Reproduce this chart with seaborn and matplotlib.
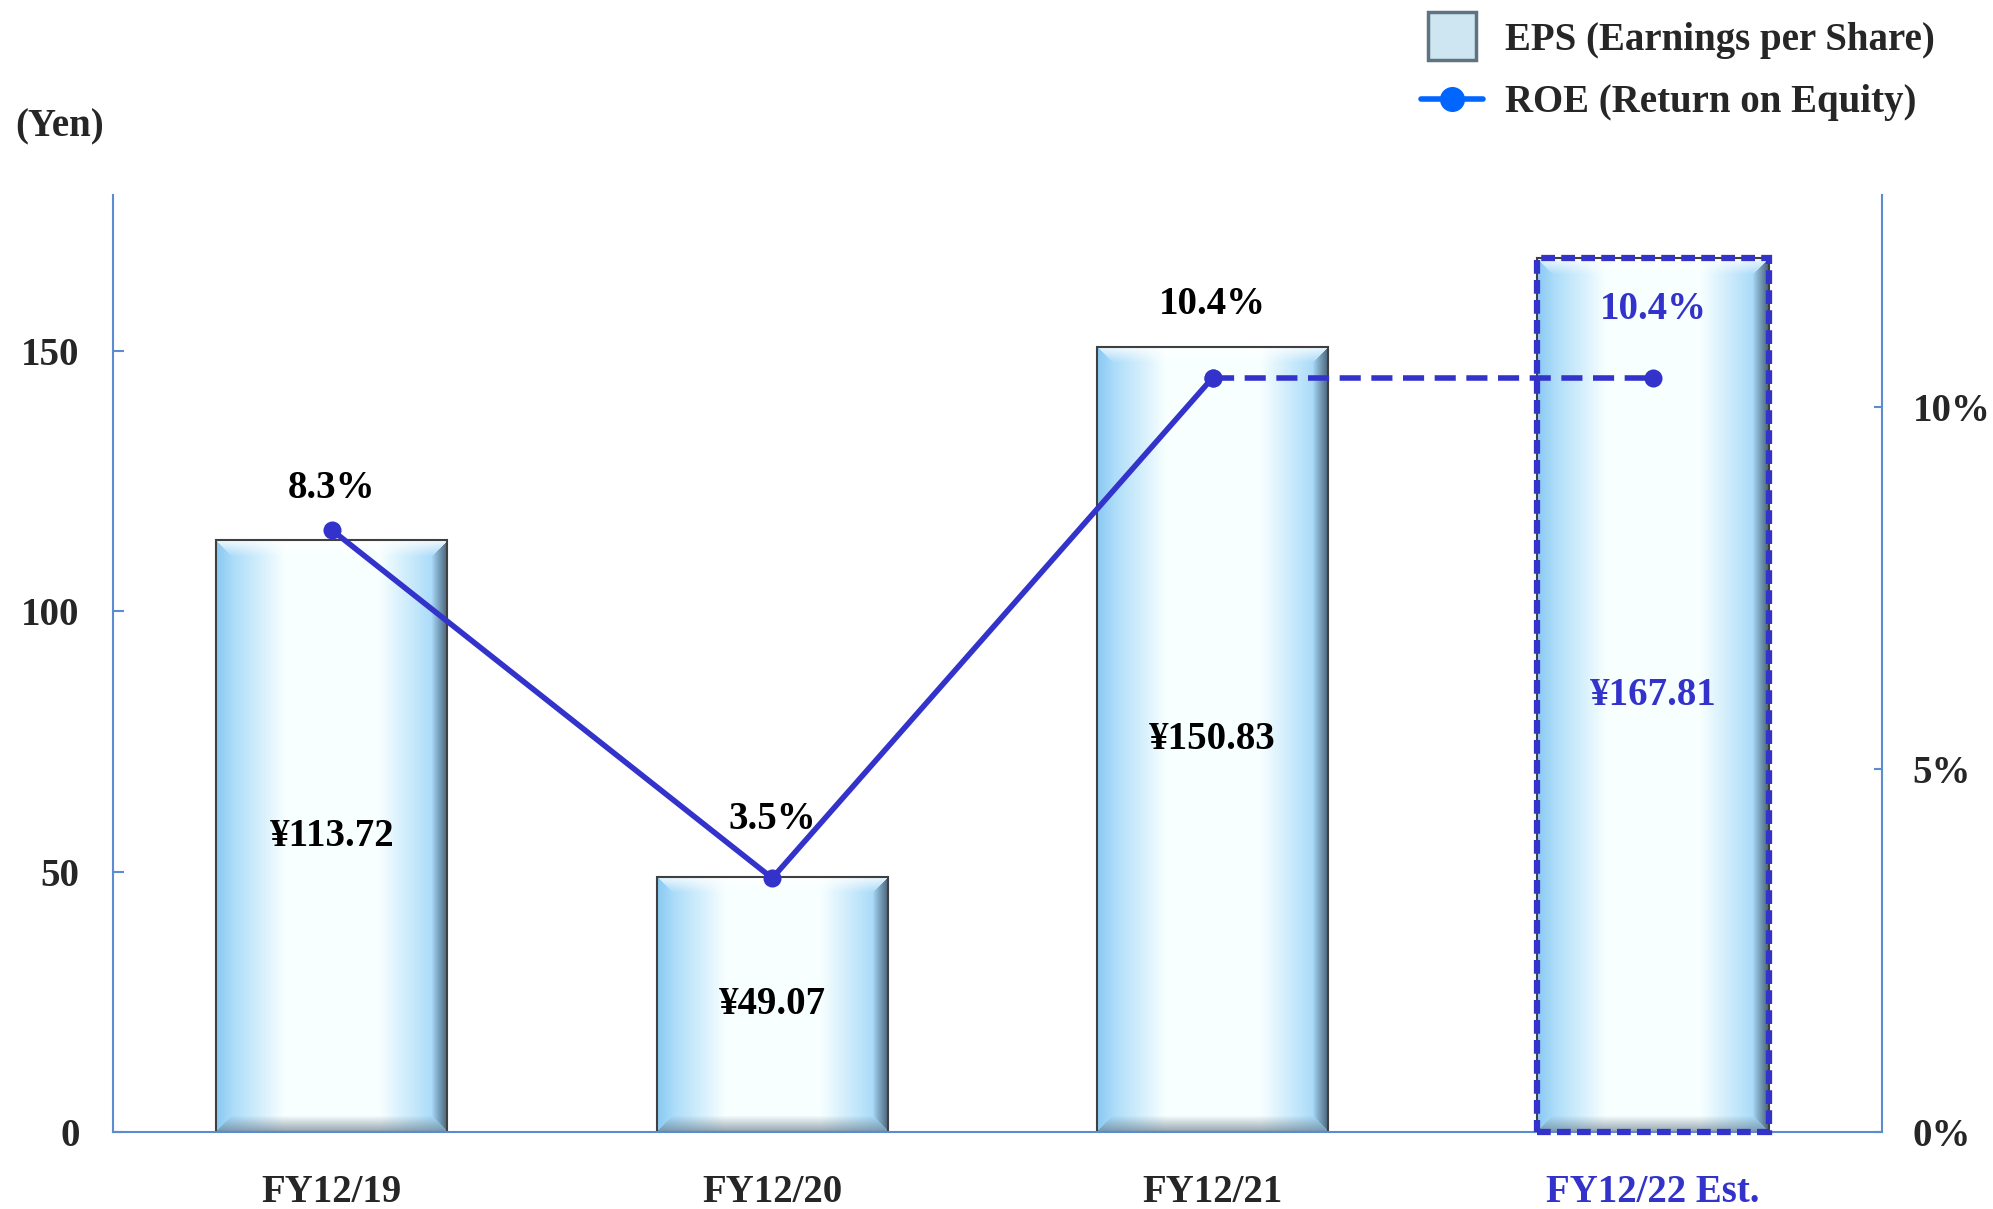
import numpy as np
import matplotlib
matplotlib.use("Agg")
import matplotlib.pyplot as plt
import seaborn as sns
from matplotlib.patches import Patch, Rectangle
from matplotlib.lines import Line2D
from matplotlib.legend_handler import HandlerPatch

# =========================
# DATA
# =========================
categories = ["FY12/19", "FY12/20", "FY12/21", "FY12/22 Est."]
eps = [113.72, 49.07, 150.83, 167.81]
roe = [8.3, 3.5, 10.4, 10.4]
eps_labels = ["¥113.72", "¥49.07", "¥150.83", "¥167.81"]
roe_labels = ["8.3%", "3.5%", "10.4%", "10.4%"]
left_ticks = [0, 50, 100, 150]
right_ticks = [0, 5, 10]

# =========================
# STYLE
# =========================
LINE = "#3333CC"
LEGEND_LINE = "#0066FF"
SPINE = "#5B8BD0"
FS = 28

sns.set_style("white")
plt.rcParams["font.family"] = ["Liberation Serif", "DejaVu Serif"]
plt.rcParams["font.weight"] = "bold"

W_PX, H_PX = 1993, 1209
fig = plt.figure(figsize=(W_PX / 100, H_PX / 100), dpi=100)
ax = fig.add_axes([113 / W_PX, 1 - 1132 / H_PX, (1882 - 113) / W_PX, (1132 - 195) / H_PX])

x = np.arange(len(categories))

# =========================
# BARS (EPS)
# =========================
sns.barplot(x=x, y=eps, ax=ax, native_scale=True, width=0.525,
            facecolor="none", edgecolor="#404040", linewidth=1.5)

ax.set_xlim(-0.497, len(categories) - 0.48)
ax.set_ylim(0, 180)


def bar_image(w, h, b=16):
    u = np.linspace(0, 1, w)
    edge = np.array([0.58, 0.82, 0.97])
    mid = np.array([0.97, 1.0, 1.0])
    t = np.clip((1 - np.abs(u - 0.5) / 0.5) * 1.7, 0, 1)
    row = edge + (mid - edge) * t[:, None]
    img = np.repeat(row[None, :, :], h, axis=0)

    yy, xx = np.mgrid[0:h, 0:w]
    dt, db, dl, dr = yy, h - 1 - yy, xx, w - 1 - xx
    d = np.minimum.reduce([dt, db, dl, dr])
    fade = np.clip(1 - d / b, 0, 1)[..., None]

    def blend(mask, color, strength):
        m = (mask & (d < b))[..., None]
        f = fade * strength * m
        return img * (1 - f) + np.array(color) * f

    img = blend(dt == d, [1.0, 1.0, 1.0], 0.85)
    img = blend((db == d) & (dt != d), [0.42, 0.50, 0.56], 0.7)
    img = blend((dr == d) & (dt != d) & (db != d), [0.22, 0.28, 0.35], 0.8)
    img = blend((dl == d) & (dt != d) & (db != d), [0.50, 0.75, 0.92], 0.4)
    return np.clip(img, 0, 1)


bars = list(ax.patches)
for p in bars:
    x0, w, h = p.get_x(), p.get_width(), p.get_height()
    (px0, py0), (px1, py1) = ax.transData.transform([(x0, 0), (x0 + w, h)])
    img = bar_image(int(round(px1 - px0)), int(round(py1 - py0)))
    im = ax.imshow(img, extent=[x0, x0 + w, 0, h], aspect="auto",
                   zorder=p.get_zorder() - 0.1, interpolation="bilinear")
    im.set_clip_path(p)

# estimate bar: dashed outline
last = bars[-1]
ax.add_patch(Rectangle((last.get_x(), 0), last.get_width(), last.get_height(),
                       fill=False, edgecolor=LINE, linewidth=4.5,
                       linestyle=(0, (2.2, 1.0)), zorder=3, clip_on=False))

ax.set_xlim(-0.497, len(categories) - 0.48)
ax.set_ylim(0, 180)

for i, (h, lab) in enumerate(zip(eps, eps_labels)):
    ax.text(x[i], h / 2, lab, ha="center", va="center", fontsize=FS,
            fontweight="bold", color=LINE if i == len(eps) - 1 else "black", zorder=5)

# =========================
# LINE (ROE)
# =========================
ax2 = ax.twinx()
sns.lineplot(x=x[:3], y=roe[:3], ax=ax2, color=LINE, linewidth=4,
             marker="o", markersize=13, markeredgewidth=0)
sns.lineplot(x=x[2:], y=roe[2:], ax=ax2, color=LINE, linewidth=4,
             marker="o", markersize=13, markeredgewidth=0)
for ln in ax2.lines:
    ln.set_linewidth(4)
    ln.set_markersize(13)
ax2.lines[-1].set_dashes([3.8, 1.9])
ax2.set_ylim(0, 12.92)
ax2.set_xlim(ax.get_xlim())

label_offsets = [30, 42, 53, 49]
for i, (v, lab) in enumerate(zip(roe, roe_labels)):
    ax2.annotate(lab, (x[i], v), xytext=(0, label_offsets[i]), textcoords="offset points",
                 ha="center", va="center", fontsize=FS, fontweight="bold",
                 color=LINE if i == len(roe) - 1 else "black")

# =========================
# AXES
# =========================
for a in (ax, ax2):
    for s in a.spines.values():
        s.set_visible(False)
    a.grid(False)

ax.spines["left"].set_visible(True)
ax.spines["bottom"].set_visible(True)
ax2.spines["right"].set_visible(True)
for s in (ax.spines["left"], ax.spines["bottom"], ax2.spines["right"]):
    s.set_color(SPINE)
    s.set_linewidth(1.5)

ax.set_xticks(x)
ax.set_xticklabels(categories)
ax.tick_params(axis="x", length=0, pad=30, labelsize=FS)
ax.get_xticklabels()[-1].set_color(LINE)

ax.set_yticks(left_ticks)
ax.tick_params(axis="y", direction="in", length=8, width=1.5, color=SPINE, pad=24, labelsize=FS)
ax2.set_yticks(right_ticks)
ax2.set_yticklabels([f"{t}%" for t in right_ticks])
ax2.tick_params(axis="y", direction="in", length=6, width=1.5, color=SPINE, pad=22, labelsize=FS)
ax.set_xlabel("")
ax.set_ylabel("")
ax2.set_ylabel("")

fig.text(15 / W_PX, 1 - 127 / H_PX, "(Yen)", ha="left", va="center", fontsize=FS, fontweight="bold")

# =========================
# LEGEND
# =========================
def square_patch(legend, orig_handle, xdescent, ydescent, width, height, fontsize):
    s = 34.5
    xc, yc = width / 2 - xdescent, height / 2 - ydescent
    return Rectangle((xc - s / 2, yc - s / 2), s, s)


handles = [
    Patch(facecolor="#cde6f2", edgecolor="#5f7380", linewidth=2.5),
    Line2D([0], [0], color=LEGEND_LINE, linewidth=4, marker="o", markersize=17),
]
labels = ["EPS (Earnings per Share)", "ROE (Return on Equity)"]
fig.legend(handles, labels, loc="upper left", bbox_to_anchor=(1421 / W_PX, 1 - 22 / H_PX),
           frameon=False, borderpad=0, borderaxespad=0, handlelength=1.6,
           handletextpad=0.55, labelspacing=0.65,
           handler_map={Patch: HandlerPatch(patch_func=square_patch)},
           prop=dict(size=FS, weight="bold"))

fig.savefig("out.png", dpi=100)
plt.close(fig)
